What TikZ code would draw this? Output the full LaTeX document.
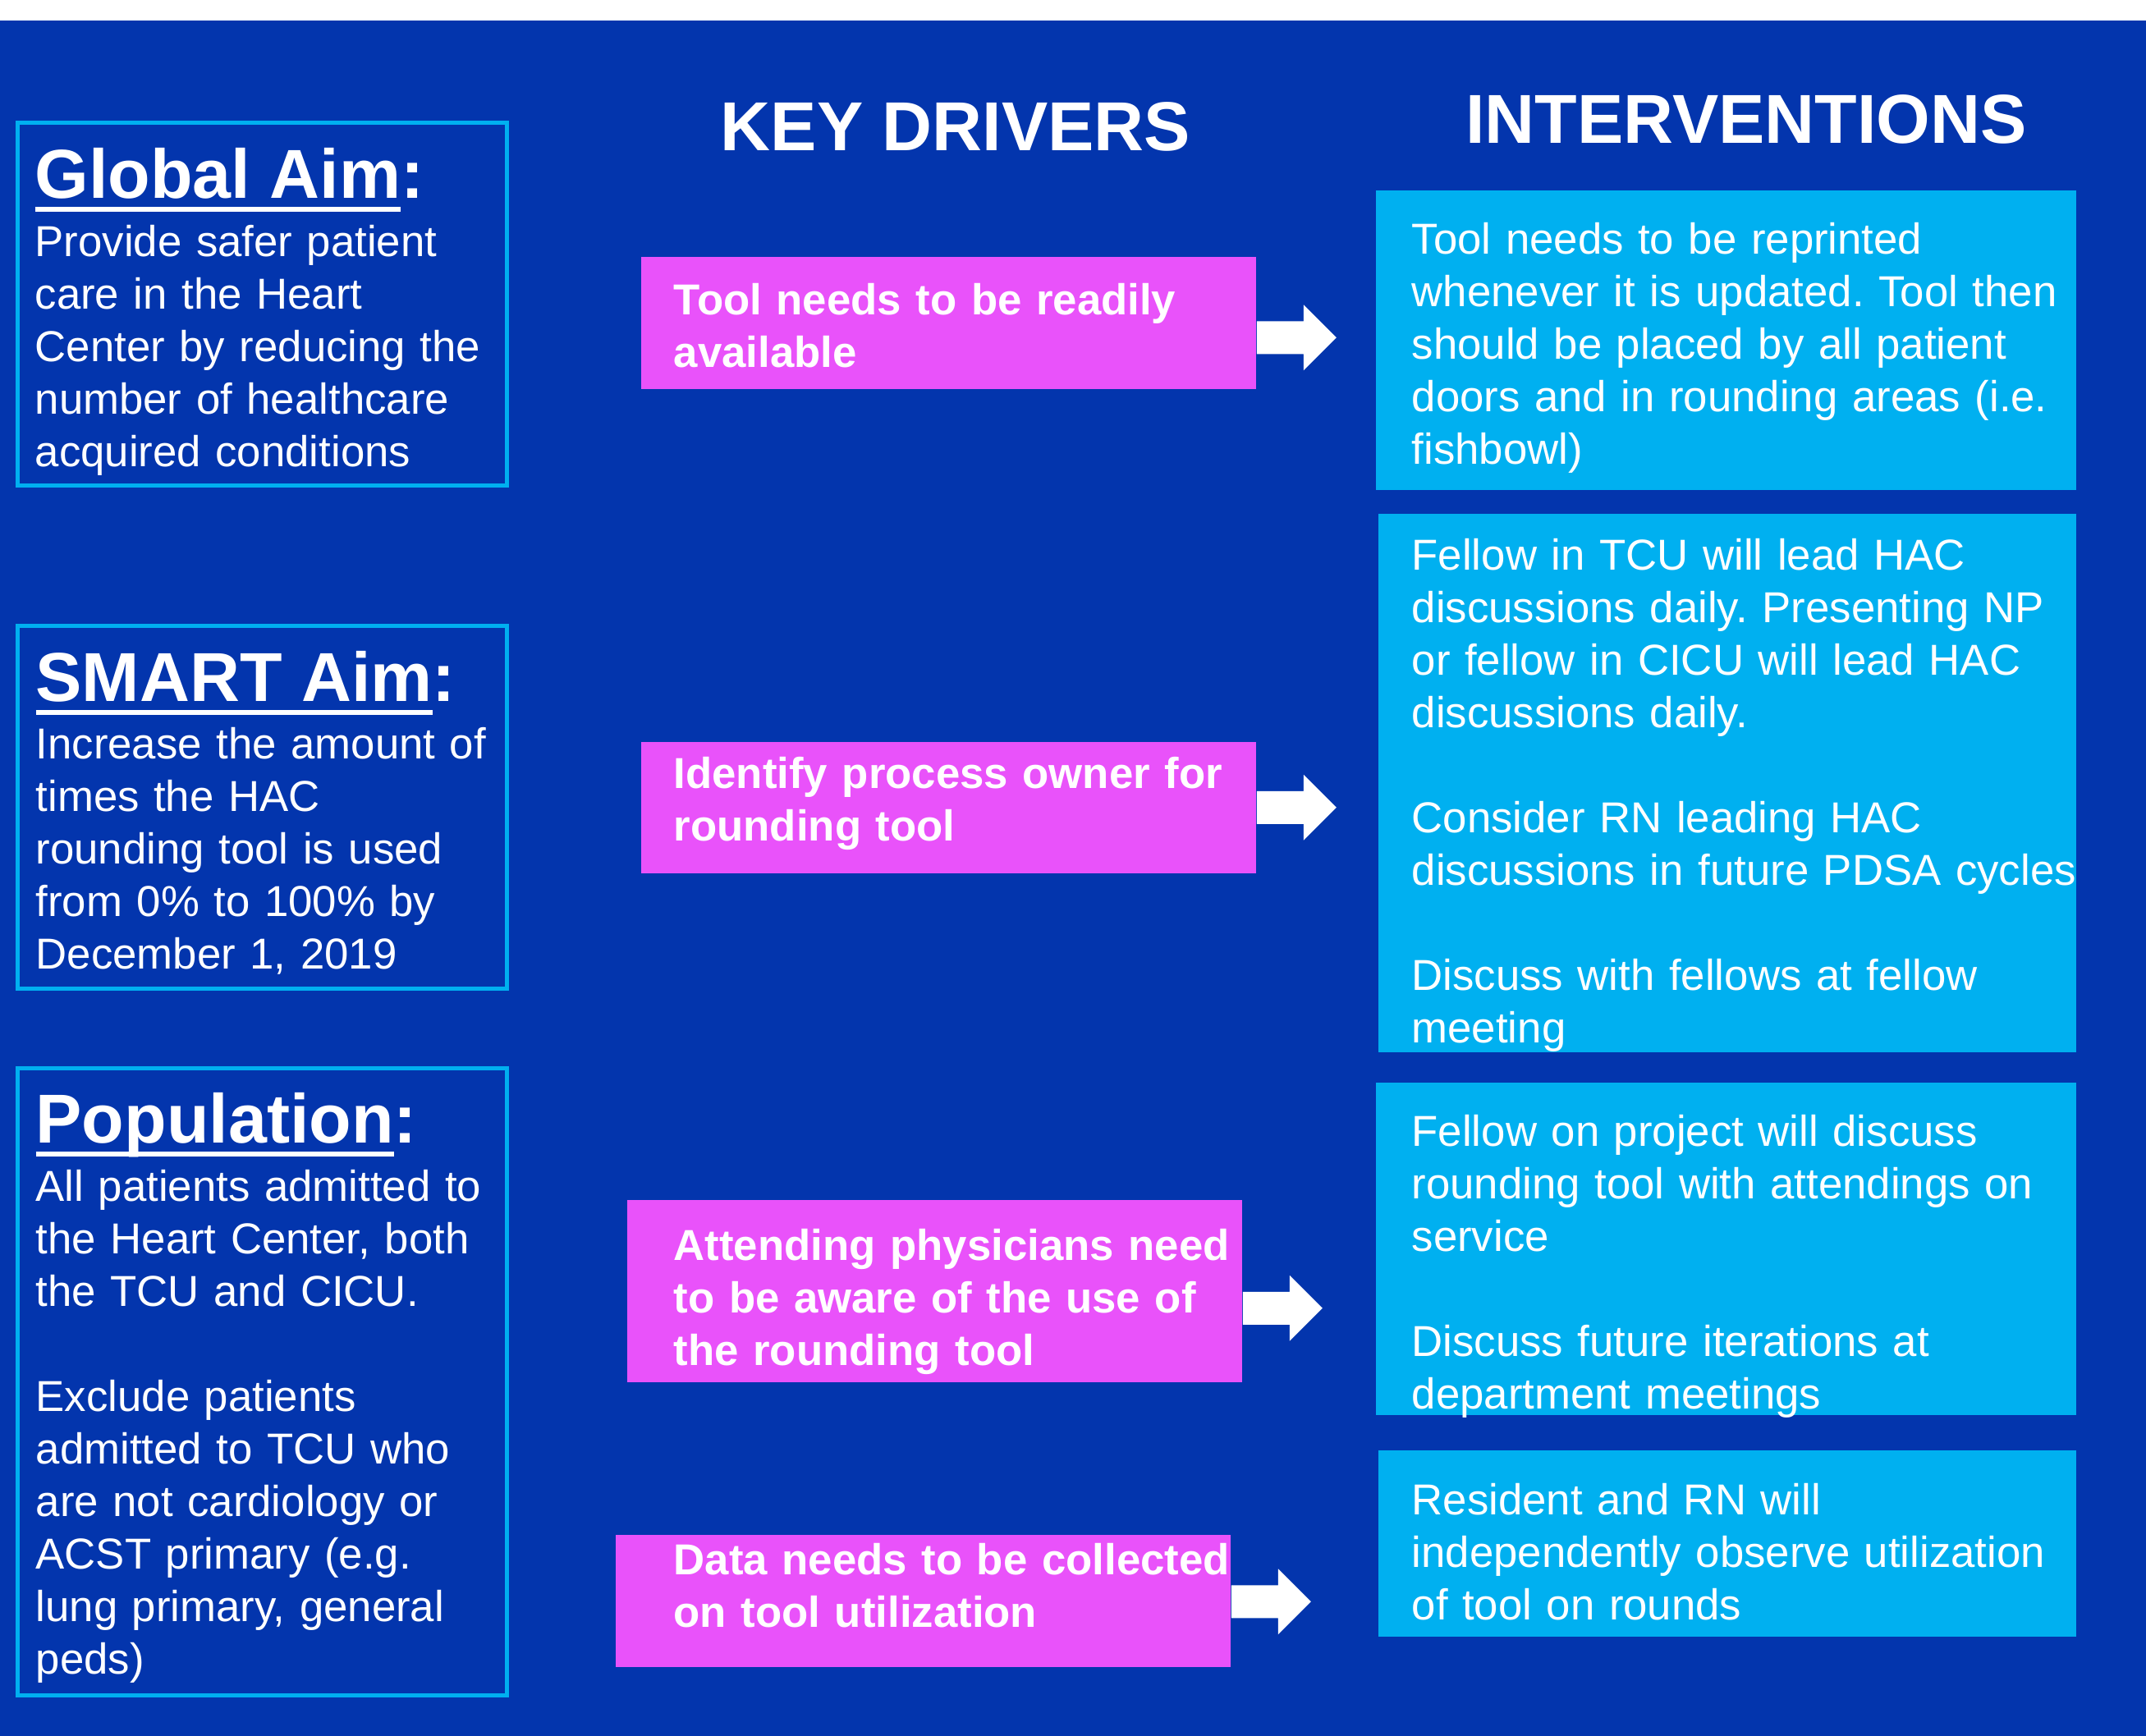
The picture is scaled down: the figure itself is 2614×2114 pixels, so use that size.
\documentclass[tikz,border=0pt]{standalone}
\usepackage{fontspec}
\setmainfont{Liberation Sans}
\usepackage{tikz}
\frenchspacing

\definecolor{bgblue}{RGB}{3,53,173}
\definecolor{drvpink}{RGB}{233,82,250}
\definecolor{intcyan}{RGB}{0,176,240}

\newlength\headlen
\newcommand\aimhead[1]{\settowidth{\headlen}{#1}\rlap{\rule[-4.9pt]{\headlen}{1.9pt}}#1:}

\tikzset{
  aimbox/.style={draw=intcyan, line width=1.4pt, anchor=north west, inner sep=0pt},
  drvbox/.style={fill=drvpink, anchor=north west, inner sep=0pt},
  intbox/.style={fill=intcyan, anchor=north west, inner sep=0pt},
  bodytext/.style={anchor=base west, inner sep=0pt, text width=8.5cm, align=left,
    text=white, font=\fontsize{15}{18.21}\selectfont},
  drvtext/.style={bodytext, font=\fontsize{15}{18.21}\selectfont\bfseries},
  headtext/.style={anchor=base west, inner sep=0pt, text=white,
    font=\fontsize{24}{28}\selectfont\bfseries}
}

\begin{document}
\begin{tikzpicture}[x=0.01cm, y=-0.01cm]

\useasboundingbox (0,0) rectangle (2614,2114);
\fill[white] (-20,-20) rectangle (2640,2140);
\fill[bgblue] (-20,25) rectangle (2640,2140);

% aims on the left
\node[aimbox, minimum width=5.96cm, minimum height=4.42cm] (glob) at (19,147) {};
\node[headtext] (glob-ttl) at (42,241) {\aimhead{Global Aim}};
\node[bodytext] (glob-txt) at (42,312) {Provide safer patient\\care in the Heart\\Center by reducing the\\number of healthcare\\acquired conditions};

\node[aimbox, minimum width=5.96cm, minimum height=4.42cm] (smart) at (19,760) {};
\node[headtext] (smart-ttl) at (43,854) {\aimhead{SMART Aim}};
\node[bodytext] (smart-txt) at (43,924) {Increase the amount of\\times the HAC\\rounding tool is used\\from 0\% to 100\% by\\December 1, 2019};

\node[aimbox, minimum width=5.96cm, minimum height=7.64cm] (pop) at (19,1299) {};
\node[headtext] (pop-ttl) at (43,1392) {\aimhead{Population}};
\node[bodytext] (pop-txt) at (43,1463) {All patients admitted to\\the Heart Center, both\\the TCU and CICU.\\[\baselineskip]Exclude patients\\admitted to TCU who\\are not cardiology or\\ACST primary (e.g.\\lung primary, general\\peds)};

% column heads
\node[headtext, anchor=base] (kd-ttl) at (1164,183) {KEY DRIVERS};
\node[headtext, anchor=base] (iv-ttl) at (2127,174) {INTERVENTIONS};

% key drivers
\node[drvbox, minimum width=7.49cm, minimum height=1.61cm] (drv1) at (780,312) {};
\node[drvtext] (drv1-txt) at (820,383) {Tool needs to be readily\\available};
\node[drvbox, minimum width=7.49cm, minimum height=1.60cm] (drv2) at (780,903) {};
\node[drvtext] (drv2-txt) at (820,960) {Identify process owner for\\rounding tool};
\node[drvbox, minimum width=7.49cm, minimum height=2.22cm] (drv3) at (763,1461) {};
\node[drvtext] (drv3-txt) at (820,1535) {Attending physicians need\\to be aware of the use of\\the rounding tool};
\node[drvbox, minimum width=7.49cm, minimum height=1.61cm] (drv4) at (749,1869) {};
\node[drvtext] (drv4-txt) at (820,1918) {Data needs to be collected\\on tool utilization};

% interventions
\node[intbox, minimum width=8.53cm, minimum height=3.65cm] (int1) at (1675,231) {};
\node[bodytext] (int1-txt) at (1719,309) {Tool needs to be reprinted\\whenever it is updated. Tool then\\should be placed by all patient\\doors and in rounding areas (i.e.\\fishbowl)};
\node[intbox, minimum width=8.50cm, minimum height=6.56cm] (int2) at (1678,625) {};
\node[bodytext] (int2-txt) at (1719,694) {Fellow in TCU will lead HAC\\discussions daily. Presenting NP\\or fellow in CICU will lead HAC\\discussions daily.\\[\baselineskip]Consider RN leading HAC\\discussions in future PDSA cycles\\[\baselineskip]Discuss with fellows at fellow\\meeting};
\node[intbox, minimum width=8.53cm, minimum height=4.05cm] (int3) at (1675,1318) {};
\node[bodytext] (int3-txt) at (1719,1396) {Fellow on project will discuss\\rounding tool with attendings on\\service\\[\baselineskip]Discuss future iterations at\\department meetings};
\node[intbox, minimum width=8.50cm, minimum height=2.27cm] (int4) at (1678,1766) {};
\node[bodytext] (int4-txt) at (1719,1845) {Resident and RN will\\independently observe utilization\\of tool on rounds};

% block arrows out of the drivers
\foreach \b/\dy in {drv1/18, drv2/0, drv3/21, drv4/1} {
  \fill[white] ([shift={(0,\dy)}]\b.east) -- ++(0,-20) -- ++(57,0) -- ++(0,-20)
    -- ++(40,40) -- ++(-40,40) -- ++(0,-20) -- ++(-57,0) -- cycle;
}
\end{tikzpicture}
\end{document}
